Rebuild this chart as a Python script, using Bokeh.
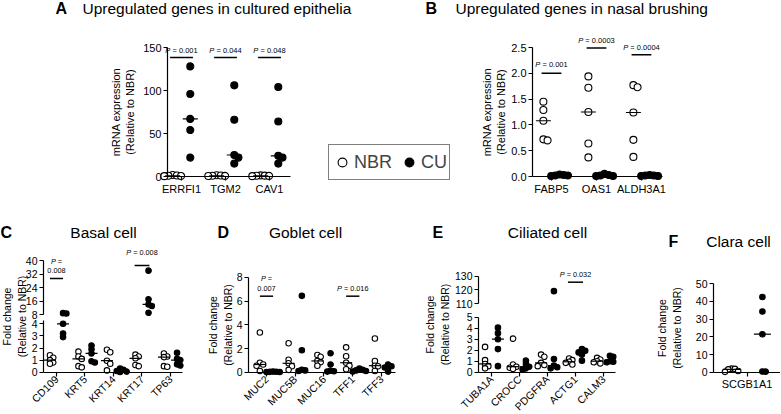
import math
import numpy as np
from bokeh.plotting import figure
from bokeh.layouts import row, column
from bokeh.models import (Range1d, LinearAxis, FixedTicker, Label, Legend,
                          LegendItem, NumeralTickFormatter)
from bokeh.core.properties import value
from bokeh.embed import file_html
from bokeh.resources import INLINE

FONT = "Liberation Sans"

# ---------------- data ----------------
genes_A = ["ERRFI1", "TGM2", "CAV1"]
nbr_A = [[1.8, 1.2, 0.9, 0.6, 0.4], [1.5, 1.1, 0.9, 0.7, 0.5], [1.3, 1.0, 0.9, 0.7, 0.4]]
cu_A = [[128, 96, 67, 54, 22], [106, 66, 25, 22, 15], [104, 64, 24, 22, 15]]
pval_A = ["0.001", "0.044", "0.048"]

genes_B = ["FABP5", "OAS1", "ALDH3A1"]
nbr_B = [[1.45, 1.29, 1.08, 0.72, 0.70], [1.94, 1.72, 1.25, 0.64, 0.37], [1.77, 1.73, 1.24, 0.71, 0.38]]
cu_B = [[0.04, 0.03, 0.02, 0.02, 0.01], [0.05, 0.03, 0.02, 0.01, 0.01], [0.03, 0.02, 0.02, 0.01, 0.01]]
pval_B = ["0.001", "0.0003", "0.0004"]

genes_C = ["CD109", "KRT5", "KRT14", "KRT17", "TP63"]
nbr_C = [[1.4, 1.2, 1.0, 0.8, 0.7], [1.7, 1.3, 1.1, 0.5, 0.4], [1.85, 1.65, 0.95, 0.7, 0.15],
         [1.45, 1.3, 1.15, 0.6, 0.5], [1.55, 1.3, 1.25, 0.5, 0.45]]
cu_C = [[8.8, 8.6, 4.0, 3.2, 2.9], [2.2, 1.9, 1.55, 0.9, 0.8], [0.3, 0.2, 0.1, 0.05, 0.02],
        [34, 17, 14, 13, 9], [1.6, 1.1, 1.0, 0.65, 0.55]]
pval_C = {"CD109": "0.008", "KRT17": "0.008"}

genes_D = ["MUC2", "MUC5B", "MUC16", "TFF1", "TFF3"]
nbr_D = [[3.35, 0.8, 0.65, 0.55, 0.1], [2.45, 1.05, 0.75, 0.5, 0.2], [1.45, 1.3, 0.95, 0.85, 0.55],
         [2.1, 1.35, 0.8, 0.55, 0.25], [2.85, 0.95, 0.55, 0.5, 0.1]]
cu_D = [[0.05, 0.04, 0.03, 0.02, 0.01], [6.45, 1.85, 0.2, 0.15, 0.1], [1.6, 0.65, 0.12, 0.08, 0.05],
        [0.3, 0.2, 0.15, 0.1, 0.05], [0.65, 0.5, 0.4, 0.35, 0.05]]
pval_D = {"MUC2": "0.007", "TFF1": "0.016"}

genes_E = ["TUBA1A", "CROCC", "PDGFRA", "ACTG1", "CALM3"]
nbr_E = [[2.3, 1.1, 0.75, 0.55, 0.35], [3.05, 0.7, 0.5, 0.4, 0.3], [1.6, 1.4, 0.85, 0.65, 0.55],
         [1.25, 1.1, 0.95, 0.85, 0.7], [1.3, 1.15, 1.0, 0.9, 0.8]]
cu_E = [[4.05, 3.55, 3.0, 2.1, 0.55], [1.05, 0.75, 0.5, 0.35, 0.25], [119, 1.2, 0.6, 0.45, 0.35],
        [2.1, 1.95, 1.8, 1.6, 1.05], [1.5, 1.4, 1.0, 0.95, 0.9]]
pval_E = {"ACTG1": "0.032"}

genes_F = ["SCGB1A1"]
nbr_F = [[2.0, 1.9, 1.6, 0.7, 0.2]]
cu_F = [[42.5, 34.3, 21.5, 0.4, 0.3]]

YLAB_A = "mRNA expression\n(Relative to NBR)"
YLAB_C = "Fold change\n(Relative to NBR)"

# ---------------- helpers ----------------
AW = {"P": 667, " ": 278, "=": 584, ".": 278}


def tw(s, fs):
    return sum(AW.get(c, 556) for c in s) * fs / 1000.0


def style_axis(ax, fs):
    ax.axis_line_width = 1.2
    ax.axis_line_color = "black"
    ax.major_tick_line_width = 1.2
    ax.major_tick_line_color = "black"
    ax.major_tick_out = 4
    ax.major_tick_in = 0
    ax.minor_tick_line_color = None
    ax.major_label_text_font = FONT
    ax.major_label_text_font_size = f"{fs}px"
    ax.major_label_text_color = "black"
    ax.axis_label_text_font = FONT
    ax.axis_label_text_font_style = "normal"
    ax.axis_label_text_color = "black"


def swarm(ys, d):
    step = 0.6 * d
    placed = []
    offs = [0.0] * len(ys)
    for i in sorted(range(len(ys)), key=lambda j: ys[j]):
        xo = 0.0
        for c in (0, 1, -1, 2, -2, 3, -3, 4, -4):
            xo = c * step
            if all(math.hypot(xo - px, ys[i] - py) >= step for px, py in placed):
                break
        placed.append((xo, ys[i]))
        offs[i] = xo
    return offs


def base_fig(W, H, xr, yr):
    p = figure(width=W, height=H, x_range=Range1d(*xr), y_range=Range1d(*yr),
               output_backend="svg", toolbar_location=None,
               min_border_left=0, min_border_right=0, min_border_top=0, min_border_bottom=0)
    p.outline_line_color = None
    p.background_fill_color = "white"
    p.border_fill_color = "white"
    return p


def build(W, H, ax_px, kx, xb, zero_px, k, yticks, ybound, genes, nbr, cu, *,
          off, msize, med_hw, rot, tick_fs, cat_fs, ylab, ylab_fs, ylab_standoff,
          yfmt=None, up=None):
    xr = (xb[0] - ax_px / kx, xb[0] + (W - ax_px) / kx)
    p = base_fig(W, H, xr, ((zero_px - H) / k, zero_px / k))
    p.grid.visible = False
    if up:
        p.extra_y_ranges = {"up": Range1d(up["v0"] - (H - up["px"]) / up["k"],
                                          up["v0"] + up["px"] / up["k"])}

    def is_up(v):
        return bool(up) and v > up["thresh"]

    def ypix(v):
        if is_up(v):
            return up["px"] - (v - up["v0"]) * up["k"]
        return zero_px - v * k

    rends = []
    meds = {"lo": ([], [], []), "hi": ([], [], [])}
    for groups, sgn, fill in ((nbr, -1, "white"), (cu, 1, "black")):
        lo = ([], [])
        hi = ([], [])
        for i, vals in enumerate(groups):
            xc = i + 1 + sgn * off
            offs = swarm([ypix(v) for v in vals], msize)
            for v, o in zip(vals, offs):
                tgt = hi if is_up(v) else lo
                tgt[0].append(xc + o / kx)
                tgt[1].append(v)
            med = float(np.median(vals))
            m = meds["hi" if is_up(med) else "lo"]
            m[0].append(xc - med_hw / kx)
            m[1].append(xc + med_hw / kx)
            m[2].append(med)
        r = p.scatter(lo[0], lo[1], size=msize, marker="circle", fill_color=fill,
                      line_color="black", line_width=1.1)
        rends.append(r)
        if up and hi[0]:
            p.scatter(hi[0], hi[1], size=msize, marker="circle", fill_color=fill,
                      line_color="black", line_width=1.1, y_range_name="up")
    p.segment(meds["lo"][0], meds["lo"][2], meds["lo"][1], meds["lo"][2],
              line_color="black", line_width=1.2)
    if up and meds["hi"][0]:
        p.segment(meds["hi"][0], meds["hi"][2], meds["hi"][1], meds["hi"][2],
                  line_color="black", line_width=1.2, y_range_name="up")

    xa = p.xaxis[0]
    style_axis(xa, cat_fs)
    xa.ticker = FixedTicker(ticks=list(range(1, len(genes) + 1)))
    xa.major_label_overrides = {i + 1: g for i, g in enumerate(genes)}
    xa.fixed_location = 0
    xa.bounds = xb
    xa.major_label_standoff = 2
    if rot:
        xa.major_label_orientation = math.pi / 4
        xa.major_label_standoff = 1

    ya = p.yaxis[0]
    style_axis(ya, tick_fs)
    ya.fixed_location = xb[0]
    ya.ticker = FixedTicker(ticks=yticks)
    ya.major_label_standoff = 2
    ya.axis_label = ylab
    ya.axis_label_text_font_size = f"{ylab_fs}px"
    ya.axis_label_standoff = ylab_standoff
    if yfmt:
        ya.formatter = NumeralTickFormatter(format=yfmt)
    if up:
        top_px = up["px"] - (up["bounds"][1] - up["v0"]) * up["k"]
        ya.bounds = (0, (zero_px - top_px) / k)
        ya.axis_line_color = None
        l1 = LinearAxis(fixed_location=xb[0], bounds=(0, ybound), ticker=FixedTicker(ticks=[]))
        style_axis(l1, tick_fs)
        p.add_layout(l1, "left")
        l2 = LinearAxis(y_range_name="up", fixed_location=xb[0], bounds=up["bounds"],
                        ticker=FixedTicker(ticks=up["ticks"]))
        style_axis(l2, tick_fs)
        l2.major_label_standoff = 2
        p.add_layout(l2, "left")
    else:
        ya.bounds = (0, ybound)
    return p, rends


def add_p(p, x, ys_text, lines, y_line, hw, fs, rng="default"):
    kw = dict(text_font=value(FONT), text_font_size=f"{fs}px", text_baseline="middle",
              text_align="left", text_color="#000000", y_range_name=rng)
    for y, txt in zip(ys_text, lines):
        total = tw(txt, fs)
        if txt.startswith("P "):
            p.text(x=[x], y=[y], text=["P"], x_offset=-total / 2, text_font_style="italic", **kw)
            p.text(x=[x], y=[y], text=[txt[2:]], x_offset=-total / 2 + tw("P ", fs), **kw)
        else:
            p.text(x=[x], y=[y], text=[txt], x_offset=-total / 2, **kw)
    p.segment([x - hw], [y_line], [x + hw], [y_line], line_color="black", line_width=1.5,
              y_range_name=rng)


def title(p, xl, xt, y, letter, text, align="left"):
    p.add_layout(Label(x=xl, y=y, x_units="screen", y_units="screen", text=letter,
                       text_font=FONT, text_font_size="16px", text_font_style="bold",
                       text_baseline="middle", text_align="left", text_color="black"))
    p.add_layout(Label(x=xt, y=y, x_units="screen", y_units="screen", text=text,
                       text_font=FONT, text_font_size="15.5px", text_baseline="middle",
                       text_align=align, text_color="black"))


# ---------------- title strip for panels A and B (height 18) ----------------
HS = 18
pT = base_fig(780, HS, (0, 780), (0, HS))
pT.axis.visible = False
pT.grid.visible = False
title(pT, 55, 82, HS - 8, "A", "Upregulated genes in cultured epithelia")
title(pT, 425, 455, HS - 8, "B", "Upregulated genes in nasal brushing")

# ---------------- top row (y 18..195) ----------------
HT = 195 - HS
pA, rA = build(320, HT, 167, 44, (0.682, 3.477), 176 - HS, 0.86, [0, 50, 100, 150], 150,
               genes_A, nbr_A, cu_A, off=0.2, msize=7, med_hw=7.5, rot=False, tick_fs=11,
               cat_fs=11, ylab=YLAB_A, ylab_fs=11, ylab_standoff=4)
for i, pv in enumerate(pval_A):
    add_p(pA, i + 1, [146.5], ["P = " + pv], 138.4, 0.26, 7.5)

pB, rB = build(460, HT, 212, 45, (0.578, 3.467), 176 - HS, 51.6,
               [0, 0.5, 1.0, 1.5, 2.0, 2.5], 2.5, genes_B, nbr_B, cu_B, off=0.18, msize=7,
               med_hw=7.5, rot=False, tick_fs=11, cat_fs=11, ylab=YLAB_A, ylab_fs=11,
               ylab_standoff=1, yfmt="0.0")
b_text_y = [2.18, 2.63, 2.5]
b_line_y = [2.0, 2.49, 2.36]
for i, pv in enumerate(pval_B):
    add_p(pB, i + 1, [b_text_y[i]], ["P = " + pv], b_line_y[i], 0.22, 7.5)
legend = Legend(items=[LegendItem(label="NBR", renderers=[rB[0]]),
                       LegendItem(label="CU", renderers=[rB[1]])],
                location=(8, 195 - 180), orientation="horizontal",
                label_text_font=FONT, label_text_font_size="18px",
                glyph_width=22, glyph_height=30, padding=2, spacing=6, label_standoff=1,
                margin=0, border_line_color="black", border_line_width=1.2,
                background_fill_color="white", background_fill_alpha=1.0)
pB.add_layout(legend)

# ---------------- bottom row (height 218, starts at y=195) ----------------
Y0 = 195
HB = 218
Z = 371.7 - Y0
LOW = dict(off=0.23, msize=5.5, med_hw=6, tick_fs=10.5, cat_fs=10.5, ylab=YLAB_C, ylab_fs=10.5)

pC, _ = build(200, HB, 43, 28.5, (0.544, 5.42), Z, 12.1, [0, 1, 2, 3, 4], 4.3,
              genes_C, nbr_C, cu_C, rot=True, ylab_standoff=1,
              up=dict(v0=8, px=314 - Y0, k=1.6875, ticks=[8, 16, 24, 32, 40], bounds=(8, 40), thresh=6),
              **LOW)
add_p(pC, 1, [39.4, 34.1], ["P =", pval_C["CD109"]], 29.3, 0.23, 7.3, rng="up")
add_p(pC, 4, [44.7], ["P = " + pval_C["KRT17"]], 37.0, 0.26, 7.3, rng="up")
title(pC, 0, 103, HB - (232 - Y0), "C", "Basal cell", align="center")

pD, _ = build(220, HB, 48, 28.75, (0.374, 5.487), Z, 11.84, [0, 2, 4, 6, 8], 8,
              genes_D, nbr_D, cu_D, rot=True, ylab_standoff=0, **LOW)
add_p(pD, 1, [7.91, 7.07], ["P =", pval_D["MUC2"]], 6.42, 0.23, 7.3)
add_p(pD, 4, [7.07], ["P = " + pval_D["TFF1"]], 6.42, 0.23, 7.3)
title(pD, 17, 105, HB - (232 - Y0), "D", "Goblet cell", align="center")

pE, _ = build(230, HB, 58, 28, (0.536, 5.43), Z, 11.0, [0, 1, 2, 3, 4, 5], 5,
              genes_E, nbr_E, cu_E, rot=True, ylab_standoff=13,
              up=dict(v0=110, px=303 - Y0, k=1.375, ticks=[110, 120, 130], bounds=(110, 130), thresh=50),
              **LOW)
add_p(pE, 4, [131.1], ["P = " + pval_E["ACTG1"]], 125.5, 0.27, 7.3, rng="up")
title(pE, 12, 127, HB - (232 - Y0), "E", "Ciliated cell", align="center")

LOWF = dict(LOW)
LOWF.update(off=0.23, med_hw=8.5, cat_fs=11)
pF, _ = build(130, HB, 63, 67, (0.5, 1.5), Z, 1.768, [0, 10, 20, 30, 40, 50], 50,
              genes_F, nbr_F, cu_F, rot=False, ylab_standoff=10, **LOWF)
title(pF, 18, 88, HB - (241 - Y0), "F", "Clara cell", align="center")

layout = column(pT, row(pA, pB), row(pC, pD, pE, pF))
open("out.html", "w").write(file_html(layout, INLINE, title="plot"))
